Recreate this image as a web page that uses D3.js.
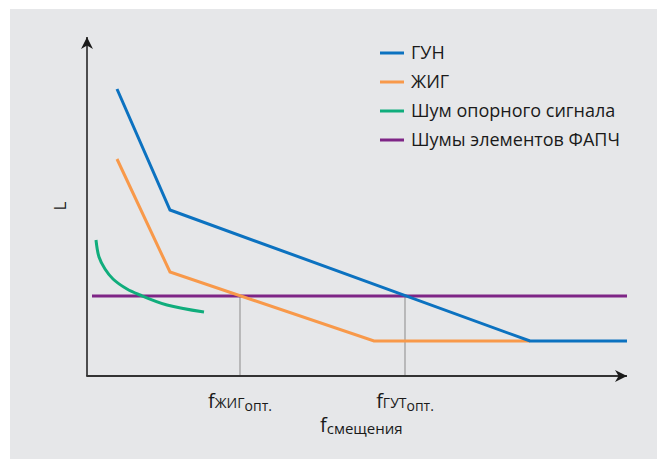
<!DOCTYPE html>
<html>
<head>
<meta charset="utf-8">
<script src="https://cdn.jsdelivr.net/npm/d3@7"></script>
<style>
  body { margin: 0; background: #fff; }
  svg { display: block; font-family: "Open Sans", sans-serif; }
</style>
</head>
<body>
<svg id="chart" width="657" height="459"></svg>
<script>
// series, abstract units (x: offset along axis, y: noise level)
const vco = [[30, 287], [83, 166], [443, 35], [540, 35]];
const yig = [[30, 217], [83, 104], [287, 35], [443, 35]];
const refNoise = [[9, 136], [12, 119], [18, 107], [26, 97], [40, 87], [53, 81], [80, 71], [117, 64]];
const pllNoise = [[5, 80], [540, 80]];
const optMarks = [{x: 153, y: 80, main: "ЖИГ"}, {x: 318, y: 80, main: "ГУТ"}];

const legendNames = ["ГУН", "ЖИГ", "Шум опорного сигнала", "Шумы элементов ФАПЧ"];
const colors = ["#0c72c0", "#f8994a", "#10ad7c", "#7e2586"];

const svg = d3.select("#chart");

// panel background
svg.append("rect").attr("x", 10).attr("y", 9).attr("width", 647).attr("height", 450)
  .attr("fill", "#e6e7e9");

const x = d3.scaleLinear().domain([0, 540]).range([87, 627]);
const y = d3.scaleLinear().domain([0, 338]).range([376, 38]);

const defs = svg.append("defs");
defs.append("marker").attr("id", "arr").attr("viewBox", "0 0 10 10")
  .attr("refX", 10).attr("refY", 5).attr("markerWidth", 12).attr("markerHeight", 12)
  .attr("markerUnits", "userSpaceOnUse").attr("orient", "auto")
  .append("path").attr("d", "M0,0 L10,5 L0,10 L3,5 Z").attr("fill", "#1a1a1a");

// guide lines
svg.selectAll(".guide").data(optMarks).join("line")
  .attr("class", "guide")
  .attr("x1", d => x(d.x)).attr("x2", d => x(d.x))
  .attr("y1", d => y(d.y)).attr("y2", y(0))
  .attr("stroke", "#9a9a9a").attr("stroke-width", 1.2);

// axes
svg.append("line").attr("x1", x(0)).attr("y1", y(0)).attr("x2", x(0)).attr("y2", y(338) - 1)
  .attr("stroke", "#1a1a1a").attr("stroke-width", 1.5).attr("marker-end", "url(#arr)");
svg.append("line").attr("x1", x(0) - 0.75).attr("y1", y(0)).attr("x2", x(540)).attr("y2", y(0))
  .attr("stroke", "#333").attr("stroke-width", 2).attr("marker-end", "url(#arr)");

const line = d3.line().x(d => x(d[0])).y(d => y(d[1]));
const curve = d3.line().x(d => x(d[0])).y(d => y(d[1])).curve(d3.curveCatmullRom.alpha(0.5));

const g = svg.append("g").attr("fill", "none").attr("stroke-width", 3);
g.append("path").attr("d", line(pllNoise)).attr("stroke", colors[3]);
g.append("path").attr("d", curve(refNoise)).attr("stroke", colors[2]);
g.append("path").attr("d", line(yig)).attr("stroke", colors[1]);
g.append("path").attr("d", line(vco)).attr("stroke", colors[0]);

// legend
const leg = svg.selectAll(".leg").data(legendNames).join("g")
  .attr("class", "leg")
  .attr("transform", (d, i) => `translate(380,${53 + i * 29})`);
leg.append("line").attr("x1", 0).attr("x2", 24)
  .attr("stroke", (d, i) => colors[i]).attr("stroke-width", 3);
leg.append("text").attr("x", 31).attr("y", 6)
  .attr("font-size", 18).attr("fill", "#1a1a1a").text(d => d);

// x tick labels
const lab = svg.selectAll(".opt").data(optMarks).join("text")
  .attr("class", "opt")
  .attr("x", d => x(d.x)).attr("y", 408)
  .attr("text-anchor", "middle")
  .attr("fill", "#1a1a1a");
lab.append("tspan").attr("font-size", 20).text("f");
lab.append("tspan").attr("font-size", 14).attr("dy", 0).text(d => d.main);
lab.append("tspan").attr("font-size", 14).attr("dy", 3).text("опт.");

// axis titles
const xt = svg.append("text").attr("x", 320).attr("y", 432).attr("fill", "#1a1a1a");
xt.append("tspan").attr("font-size", 20).text("f");
xt.append("tspan").attr("font-size", 15).attr("dy", 2).text("смещения");

svg.append("text").attr("transform", "translate(66,206) rotate(-90)")
  .attr("text-anchor", "middle").attr("font-size", 17).attr("fill", "#1a1a1a").text("L");
</script>
</body>
</html>
